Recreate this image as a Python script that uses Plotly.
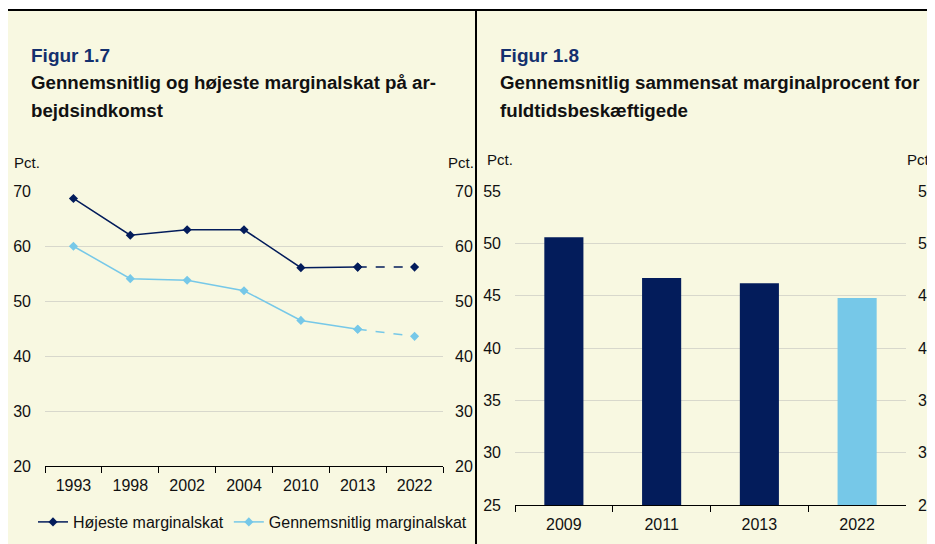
import plotly.graph_objects as go

# page body has an 8px margin: the figure starts at (8, 8) in the window
OFF = 8
W, H = 935 - OFF, 544 - OFF
def px(x): return max(0.0, (x - OFF) / W)
def py(y): return min(1.0, 1 - (y - OFF) / H)

# ---- data ----
years_l = ["1993", "1998", "2002", "2004", "2010", "2013", "2022"]
hoejeste = [68.7, 62.0, 63.0, 63.0, 56.1, 56.2, 56.2]
gennemsnit = [60.0, 54.1, 53.8, 51.9, 46.5, 44.9, 43.6]
years_r = ["2009", "2011", "2013", "2022"]
sammensat = [50.6, 46.7, 46.2, 44.8]

NAVY = "#031c5b"
LIGHT = "#76c8e8"
BG = "#f8f8e1"
FONT = "Liberation Sans, Arial, sans-serif"
GRID = "#d8d8cc"

fig = go.Figure()
fig.add_trace(go.Scatter(x=years_l[:6], y=hoejeste[:6], mode="lines+markers",
                         name="Højeste marginalskat",
                         line=dict(color=NAVY, width=1.5),
                         marker=dict(symbol="diamond", size=7, color=NAVY),
                         xaxis="x", yaxis="y"))
fig.add_trace(go.Scatter(x=years_l[5:], y=hoejeste[5:], mode="lines+markers",
                         showlegend=False,
                         line=dict(color=NAVY, width=1.5, dash="dash"),
                         marker=dict(symbol="diamond", size=7, color=NAVY),
                         xaxis="x", yaxis="y"))
fig.add_trace(go.Scatter(x=years_l[:6], y=gennemsnit[:6], mode="lines+markers",
                         name="Gennemsnitlig marginalskat",
                         line=dict(color=LIGHT, width=1.5),
                         marker=dict(symbol="diamond", size=7, color=LIGHT),
                         xaxis="x", yaxis="y"))
fig.add_trace(go.Scatter(x=years_l[5:], y=gennemsnit[5:], mode="lines+markers",
                         showlegend=False,
                         line=dict(color=LIGHT, width=1.5, dash="dash"),
                         marker=dict(symbol="diamond", size=7, color=LIGHT),
                         xaxis="x", yaxis="y"))
fig.add_trace(go.Scatter(x=years_l, y=gennemsnit, mode="lines", opacity=0,
                         showlegend=False, hoverinfo="skip",
                         xaxis="x", yaxis="y3"))

fig.add_trace(go.Bar(x=years_r, y=sammensat, width=0.4,
                     marker=dict(color=[NAVY, NAVY, NAVY, LIGHT], line=dict(width=0)),
                     showlegend=False, xaxis="x2", yaxis="y2"))
fig.add_trace(go.Scatter(x=years_r, y=sammensat, mode="lines", opacity=0,
                         showlegend=False, hoverinfo="skip",
                         xaxis="x2", yaxis="y4"))

tickfont = dict(family=FONT, size=16, color="#111111")

xcommon = dict(type="category", showline=True, linecolor="black", linewidth=1,
               ticks="outside", tickson="boundaries", ticklen=6, tickcolor="black",
               tickfont=tickfont, showgrid=False, zeroline=False, fixedrange=True,
               ticklabelstandoff=5)
yleft = dict(showline=False, ticks="", tickfont=tickfont, zeroline=False,
             ticklabelstandoff=13)
yright = dict(showline=False, ticks="", tickfont=tickfont, zeroline=False,
              ticklabelstandoff=11)

fig.update_layout(
    width=W, height=H,
    margin=dict(l=0, r=0, t=0, b=0, autoexpand=False),
    paper_bgcolor="white", plot_bgcolor="rgba(0,0,0,0)",
    font=dict(family=FONT, color="#111111"),
    xaxis=dict(domain=[px(45), px(443)], range=[-0.5, 6.5], anchor="y", **xcommon),
    yaxis=dict(domain=[py(466), py(191.3)], range=[20, 70], dtick=10,
               showgrid=True, gridcolor=GRID, gridwidth=1, anchor="x", **yleft),
    yaxis3=dict(overlaying="y", side="right", range=[20, 70], dtick=10,
                showgrid=False, anchor="x", **yright),
    xaxis2=dict(domain=[px(515), px(906)], range=[-0.5, 3.5], anchor="y2", **xcommon),
    yaxis2=dict(domain=[py(505), py(191.3)], range=[25, 55], dtick=5,
                showgrid=True, gridcolor=GRID, gridwidth=1, anchor="x2", **yleft),
    yaxis4=dict(overlaying="y2", side="right", range=[25, 55], dtick=5,
                showgrid=False, anchor="x2", **yright),
    bargap=0.6,
    legend=dict(orientation="h", x=px(33), y=py(522), xanchor="left", yanchor="middle",
                bgcolor="rgba(0,0,0,0)", font=dict(family=FONT, size=16, color="#111111"),
                itemwidth=30, traceorder="normal"),
    shapes=[
        dict(type="rect", xref="paper", yref="paper", x0=px(7), x1=1, y0=0, y1=py(11),
             fillcolor=BG, line=dict(width=0), layer="below"),
        dict(type="line", xref="paper", yref="paper", x0=px(7), x1=1, y0=py(10), y1=py(10),
             line=dict(color="black", width=2)),
        dict(type="line", xref="paper", yref="paper", x0=px(476), x1=px(476), y0=0, y1=py(10),
             line=dict(color="black", width=2)),
    ],
)

ann = []
def txt(x, y, s, size, color="#111111", bold=False, xanchor="left"):
    ann.append(dict(x=px(x), y=py(y), xref="paper", yref="paper",
                    text=("<b>%s</b>" % s) if bold else s,
                    showarrow=False, xanchor=xanchor, yanchor="middle",
                    font=dict(family=FONT, size=size, color=color)))

TITLE_BLUE = "#14306e"
txt(29, 55, "Figur 1.7", 19, TITLE_BLUE, True)
txt(29, 82, "Gennemsnitlig og højeste marginalskat på ar-", 18.7, "#111111", True)
txt(29, 110, "bejdsindkomst", 18.7, "#111111", True)
txt(498, 55, "Figur 1.8", 19, TITLE_BLUE, True)
txt(498, 82, "Gennemsnitlig sammensat marginalprocent for", 18.7, "#111111", True)
txt(498, 110, "fuldtidsbeskæftigede", 18.7, "#111111", True)

txt(12, 162, "Pct.", 15)
txt(446, 162, "Pct.", 15)
txt(485, 160, "Pct.", 15)
txt(905, 160, "Pct.", 15)

fig.update_layout(annotations=ann)
fig.write_html("out.html")
